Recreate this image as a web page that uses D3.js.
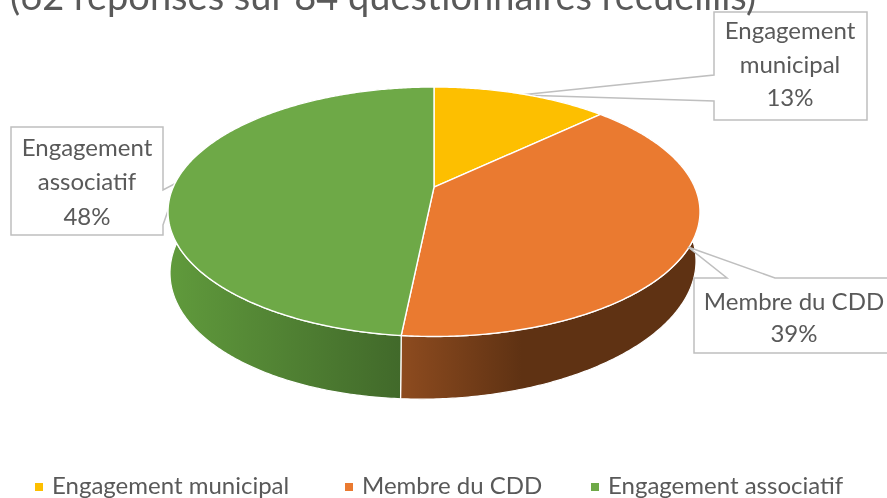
<!DOCTYPE html>
<html>
<head>
<meta charset="utf-8">
<script src="https://cdn.jsdelivr.net/npm/d3@7"></script>
<style>
  html, body { margin: 0; padding: 0; background: #fff; overflow: hidden; }
  svg { display: block; filter: blur(0.5px); }
  text { font-family: Lato, "Open Sans", sans-serif; fill: #595959; }
</style>
</head>
<body>
<div id="chart"></div>
<script>
const categories = ['Engagement municipal', 'Membre du CDD', 'Engagement associatif'];
const responses = [8, 24, 30];
const colors = ['#fdbf00', '#ea7a30', '#6ea947'];
const titleText = '(62 réponses sur 84 questionnaires recueillis)';

const width = 887, height = 498;
const svg = d3.select('#chart').append('svg')
  .attr('width', width)
  .attr('height', height);

// Perspective of the disc: the centre of the pie sits above the centre of the ellipse
const tilt = -0.197;
const project = a => {
  const ux = Math.sin(a), uy = -Math.cos(a);
  const den = 1 + tilt * uy;
  return [ux * Math.sqrt(1 - tilt * tilt) / den, (uy + tilt) / den];
};

const topX = d3.scaleLinear().domain([-1, 1]).range([168, 700]);
const topY = d3.scaleLinear().domain([-1, 1]).range([87, 336.5]);
const lowX = d3.scaleLinear().domain([-1, 1]).range([170, 696]);
const lowY = d3.scaleLinear().domain([-1, 1]).range([135, 399]);
const lowShear = 6;

const topPoint = a => { const p = project(a); return [topX(p[0]), topY(p[1])]; };
const lowPoint = a => { const p = project(a); return [lowX(p[0]), lowY(p[1]) - lowShear * p[0]]; };

const arcs = d3.pie().sort(null)(responses);
const total = d3.sum(responses);
const pct = d3.format('.0%');
const sweep = d => d3.range(d.startAngle, d.endAngle, 0.01).concat([d.endAngle]);
const line = d3.line();

const defs = svg.append('defs');
const addGradient = (id, x1, x2, stops) => {
  const g = defs.append('linearGradient')
    .attr('id', id)
    .attr('gradientUnits', 'userSpaceOnUse')
    .attr('x1', x1).attr('x2', x2)
    .attr('y1', 0).attr('y2', 0);
  stops.forEach(s => g.append('stop').attr('offset', s[0]).attr('stop-color', s[1]));
};
addGradient('wall-orange', 402, 700, [[0, '#8d4b1f'], [0.4, '#5f3213'], [1, '#5f3213']]);
addGradient('wall-green', 170, 402, [[0, '#609a3c'], [1, '#41692a']]);

// Data labels: callout box with a wedge pointing at the rim
const callouts = [
  { i: 0, box: [714, 12, 867, 120], wedge: [[714, 75], [520, 95], [714, 101]], side: 'left', lines: ['Engagement', 'municipal'], cx: 790, ys: [39, 73, 106], over: false },
  { i: 1, box: [694, 278, 892, 353], wedge: [[727, 278], [688, 247], [775, 278]], side: 'top', lines: ['Membre du CDD'], cx: 794, ys: [310, 342], over: true },
  { i: 2, box: [11, 127, 163, 235], wedge: [[163, 190], [178, 182], [163, 225]], side: 'right', lines: ['Engagement', 'associatif'], cx: 87, ys: [156, 190, 225], over: false }
];

const drawCallout = c => {
  const [x0, y0, x1, y1] = c.box;
  const [w0, tip, w1] = c.wedge;
  let pts;
  if (c.side === 'left') pts = [[x0, y0], [x1, y0], [x1, y1], [x0, y1], w1, tip, w0];
  else if (c.side === 'top') pts = [[x0, y0], w0, tip, w1, [x1, y0], [x1, y1], [x0, y1]];
  else pts = [[x0, y0], [x1, y0], w0, tip, w1, [x1, y1], [x0, y1]];
  const g = svg.append('g');
  g.append('path')
    .attr('d', line(pts) + 'Z')
    .attr('fill', '#fff')
    .attr('stroke', '#bfbfbf')
    .attr('stroke-width', 1.5);
  g.selectAll('text')
    .data(c.lines.concat([pct(responses[c.i] / total)]))
    .join('text')
    .attr('x', c.cx)
    .attr('y', (d, k) => c.ys[k])
    .attr('text-anchor', 'middle')
    .style('font-size', '24px')
    .text(d => d);
};

callouts.filter(c => !c.over).forEach(drawCallout);

// Side walls (only the two front slices show)
const wallFills = [colors[0], 'url(#wall-orange)', 'url(#wall-green)'];
svg.selectAll('.wall')
  .data(arcs)
  .join('path')
  .attr('class', 'wall')
  .attr('d', d => {
    const s = sweep(d);
    return line(s.map(topPoint).concat(s.slice().reverse().map(lowPoint))) + 'Z';
  })
  .attr('fill', (d, i) => wallFills[i])
  .attr('stroke', '#fff')
  .attr('stroke-width', 1.2);

// Top face
svg.selectAll('.slice')
  .data(arcs)
  .join('path')
  .attr('class', 'slice')
  .attr('d', d => line([[topX(0), topY(tilt)]].concat(sweep(d).map(topPoint))) + 'Z')
  .attr('fill', (d, i) => colors[i])
  .attr('stroke', '#fff')
  .attr('stroke-width', 1.4)
  .attr('stroke-linejoin', 'round');

callouts.filter(c => c.over).forEach(drawCallout);

// Title, cut by the top of the frame as in the source
svg.append('text')
  .attr('x', 10)
  .attr('y', 10)
  .style('font-size', '38px')
  .text(titleText);

// Legend
const legendX = [35, 345, 591];
const legend = svg.selectAll('.legend')
  .data(categories)
  .join('g')
  .attr('class', 'legend')
  .attr('transform', (d, i) => `translate(${legendX[i]},487)`);

legend.append('rect')
  .attr('x', 0)
  .attr('y', -4)
  .attr('width', 8)
  .attr('height', 8)
  .attr('fill', (d, i) => colors[i]);

legend.append('text')
  .attr('x', 17)
  .attr('y', 7)
  .style('font-size', '24px')
  .text(d => d);
</script>
</body>
</html>
